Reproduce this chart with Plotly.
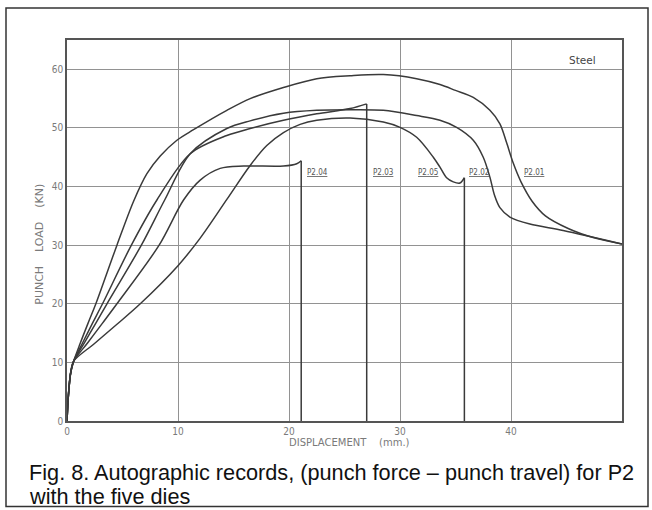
import plotly.graph_objects as go

# ---- data ----
p201_x = [0, 0.12, 0.33, 0.6, 1.2, 1.9, 2.6, 4.5, 6.0, 7.2, 8.4, 9.9, 11.4, 14.4, 16.5, 19.5, 22.5, 25.5, 28.5, 31.5, 33.6, 35.0, 36.6, 38.1, 39.0, 39.6, 40.2, 40.9, 41.9, 43.1, 45.2, 47.4, 50.0]
p201_y = [0, 4.2, 8.2, 10.2, 13.3, 16.7, 20.0, 30.0, 37.5, 42.2, 45.2, 47.9, 49.7, 53.0, 55.0, 56.9, 58.4, 58.9, 59.1, 58.4, 57.4, 56.4, 55.2, 53.0, 50.7, 47.5, 44.0, 40.8, 37.5, 35.0, 32.8, 31.3, 30.2]

p202_x = [0, 0.12, 0.33, 0.6, 1.55, 2.6, 3.6, 6.7, 8.8, 11.1, 14.4, 16.5, 19.5, 22.5, 25.5, 28.5, 31.5, 33.6, 35.1, 36.6, 37.5, 38.1, 38.5, 39.0, 39.9, 41.7, 44.7, 50.0]
p202_y = [0, 4.2, 8.2, 10.2, 13.3, 16.7, 20.0, 30.0, 37.7, 45.6, 49.9, 51.2, 52.5, 53.0, 53.1, 53.0, 52.1, 51.3, 50.1, 47.9, 45.0, 41.6, 38.6, 36.4, 34.8, 33.6, 32.5, 30.2]

p203_x = [0, 0.12, 0.33, 0.6, 1.4, 2.3, 3.2, 5.8, 8.1, 11.1, 14.4, 16.5, 19.5, 22.5, 25.5, 27.0]
p203_y = [0, 4.2, 8.2, 10.2, 13.3, 16.7, 20.0, 30.0, 37.7, 45.6, 48.7, 49.9, 51.3, 52.4, 53.3, 54.1]

p204_x = [0, 0.12, 0.33, 0.6, 1.85, 3.2, 4.5, 8.3, 10.5, 12.0, 13.8, 15.9, 19.5, 20.7, 21.1]
p204_y = [0, 4.2, 8.2, 10.2, 13.3, 16.7, 20.0, 30.0, 37.7, 41.1, 43.1, 43.5, 43.5, 43.9, 44.4]

p205_x = [0, 0.12, 0.33, 0.6, 2.4, 4.5, 6.6, 10.0, 12.0, 14.4, 16.5, 18.0, 19.5, 21.0, 22.5, 25.5, 28.5, 30.0, 31.5, 33.0, 33.6, 34.2, 34.8, 35.4, 35.8]
p205_y = [0, 4.2, 8.2, 10.2, 13.1, 16.5, 20.0, 26.5, 31.2, 37.8, 43.6, 47.0, 49.2, 50.6, 51.3, 51.7, 51.0, 50.1, 48.4, 45.0, 43.3, 41.5, 40.8, 40.6, 41.5]

# curves that end with a sudden vertical drop to zero
dropping = {"P2.03": (p203_x, p203_y), "P2.04": (p204_x, p204_y), "P2.05": (p205_x, p205_y)}
curves = {"P2.01": (p201_x, p201_y), "P2.02": (p202_x, p202_y), **dropping}

label_names = ["P2.04", "P2.03", "P2.05", "P2.02", "P2.01"]
label_x = [21.4, 27.4, 31.4, 36.0, 41.0]
label_y = 42.4

x_ticks = [0, 10, 20, 30, 40]
y_ticks = [0, 10, 20, 30, 40, 50, 60]

LINE = "#3a3a3a"
GRID = "#929292"
TICK = "#7a7a7a"
SMALL = "DejaVu Sans Condensed, DejaVu Sans"

fig = go.Figure()
for name, (xs, ys) in curves.items():
    fig.add_trace(go.Scatter(x=xs, y=ys, mode="lines", name=name,
                             line=dict(color=LINE, width=1.5, shape="spline", smoothing=0.9),
                             showlegend=False, hoverinfo="skip"))
for name, (xs, ys) in dropping.items():
    fig.add_trace(go.Scatter(x=[xs[-1], xs[-1]], y=[ys[-1], 0], mode="lines",
                             line=dict(color=LINE, width=1.5), showlegend=False, hoverinfo="skip"))

for nm, lx in zip(label_names, label_x):
    fig.add_annotation(x=lx, y=label_y, xref="x", yref="y", text="<u>" + nm + "</u>",
                       showarrow=False, xanchor="left", yanchor="middle",
                       font=dict(family=SMALL, size=8, color="#555555"))

fig.add_annotation(x=45.0, y=61.6, xref="x", yref="y", text="Steel", showarrow=False,
                   xanchor="left", yanchor="middle",
                   font=dict(family="DejaVu Sans", size=10.5, color="#444"))

# pixel helpers for layout-only placement
def PX(px):
    return (px - 67) / 555.0

def PY(py):
    return (421.5 - py) / 381.5

fig.add_annotation(x=PX(349), y=PY(443), xref="paper", yref="paper",
                   text="DISPLACEMENT&nbsp;&nbsp;&nbsp;&nbsp;(mm.)", showarrow=False,
                   xanchor="center", yanchor="middle",
                   font=dict(family="DejaVu Sans", size=10, color=TICK))
fig.add_annotation(x=PX(40), y=PY(245), xref="paper", yref="paper",
                   text="PUNCH&nbsp;&nbsp;&nbsp;&nbsp;LOAD&nbsp;&nbsp;&nbsp;&nbsp;(KN)", showarrow=False, textangle=-90,
                   xanchor="center", yanchor="middle",
                   font=dict(family="DejaVu Sans", size=11, color=TICK))

caption_lines = ["Fig. 8. Autographic records, (punch force \u2013 punch travel) for P2",
                 "with the five dies"]
for i, line in enumerate(caption_lines):
    fig.add_annotation(x=PX(27), y=PY(473 + 24 * i), xref="paper", yref="paper",
                       text=line, showarrow=False, xanchor="left", yanchor="middle", align="left",
                       font=dict(family="Liberation Sans, Arial", size=21.7, color="#111"))

fig.add_shape(type="rect", xref="paper", yref="paper",
              x0=PX(6), x1=PX(648), y0=PY(507), y1=PY(8),
              line=dict(color="#333", width=1.5), layer="below")

fig.update_layout(
    width=652, height=510,
    margin=dict(l=67, r=30, t=40, b=88.5),
    paper_bgcolor="white", plot_bgcolor="white",
    xaxis=dict(range=[0, 50], tickvals=x_ticks, showgrid=True, gridcolor=GRID, gridwidth=1,
               zeroline=False, showline=True, linecolor="#555", linewidth=1.5, mirror=True,
               ticks="", tickfont=dict(family=SMALL, size=10, color=TICK)),
    yaxis=dict(range=[0, 65], tickvals=y_ticks, showgrid=True, gridcolor=GRID, gridwidth=1,
               zeroline=False, showline=True, linecolor="#555", linewidth=1.5, mirror=True,
               ticks="", tickfont=dict(family=SMALL, size=10, color=TICK)),
)

fig.write_html("out.html", config={"displayModeBar": False},
               post_script="document.body.style.margin='0';document.body.style.overflow='hidden';")
